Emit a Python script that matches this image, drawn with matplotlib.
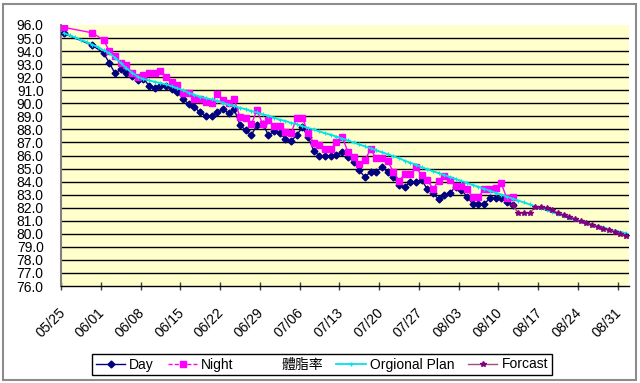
import matplotlib
matplotlib.use("Agg")
import matplotlib.pyplot as plt
from matplotlib.lines import Line2D
from matplotlib.patches import Rectangle
import matplotlib.transforms as mtransforms

plt.rcParams['font.family'] = ['Liberation Sans', 'Noto Sans CJK TC', 'DejaVu Sans']

# ---- data (x = days since 05/25) ----
tick_labels = ["05/25", "06/01", "06/08", "06/15", "06/22", "06/29", "07/06", "07/13",
               "07/20", "07/27", "08/03", "08/10", "08/17", "08/24", "08/31"]
tick_days = [0, 7, 14, 21, 28, 35, 42, 49, 56, 63, 70, 77, 84, 91, 98]

day_days = [0, 5] + list(range(7, 80))
day_vals = [95.35, 94.45,
            93.85, 93.1, 92.3, 92.6, 92.3, 92.1, 91.75, 91.9, 91.35, 91.2,   # 7-16
            91.35, 91.35, 91.1, 90.9, 90.3, 89.95, 89.7, 89.3, 89.03, 89.03,  # 17-26
            89.3, 89.55, 89.23, 89.55, 88.34, 87.95, 87.55, 88.34, 88.45, 87.57,  # 27-36
            87.85, 87.7, 87.3, 87.1, 87.57, 88.15, 87.45, 86.36, 85.97, 85.96,  # 37-46
            85.96, 86.04, 86.29, 85.91, 85.52, 84.89, 84.33, 84.76, 84.76, 85.09,  # 47-56
            84.76, 84.38, 83.74, 83.56, 83.99, 83.99, 84.12, 83.41, 83.1, 82.64,  # 57-66
            82.97, 83.15, 83.61, 83.36, 82.84, 82.28, 82.28, 82.28, 82.72, 82.72,  # 67-76
            82.72, 82.44, 82.2]                                               # 77-79

night_days = [0, 5] + list(range(7, 80))
night_vals = [95.82, 95.4,
              94.85, 94.0, 93.6, 93.07, 92.93, 92.35, 92.04, 92.17, 92.35, 92.35,  # 7-16
              92.47, 92.05, 91.65, 91.4, 90.76, 90.76, 90.33, 90.33, 90.12, 90.0,  # 17-26
              90.71, 90.25, 90.0, 90.3, 88.93, 88.85, 88.39, 89.49, 88.39, 88.72,  # 27-36
              88.28, 88.28, 87.8, 87.7, 88.9, 88.9, 87.7, 86.98, 86.8, 86.47,  # 37-46
              86.47, 87.05, 87.44, 86.29, 85.86, 85.35, 85.66, 86.47, 85.79, 85.79,  # 47-56
              85.58, 84.76, 84.07, 84.55, 84.55, 85.1, 84.5, 84.1, 83.45, 84.07,  # 57-66
              84.45, 84.1, 83.7, 83.65, 83.41, 82.8, 82.8, 83.45, 83.45, 83.5,  # 67-76
              83.87, 82.72, 82.8]                                             # 77-79

plan_days = list(range(0, 100))
plan_vals = [95.4, 95.2, 95.05, 94.85, 94.7, 94.5, 94.3, 94.05, 93.85, 93.5,
             93.1, 92.7, 92.35, 92.05, 91.85, 91.75, 91.65, 91.55, 91.45, 91.3,
             91.15, 91.0, 90.8, 90.65, 90.5, 90.4, 90.3, 90.2, 90.05, 89.9,
             89.8, 89.65, 89.55, 89.4, 89.3, 89.15, 89.05, 88.9, 88.75, 88.65,
             88.5, 88.4, 88.25, 88.1, 88.0, 87.85, 87.7, 87.6, 87.45, 87.3,
             87.15, 87.0, 86.85, 86.7, 86.55, 86.4, 86.25, 86.1, 85.95, 85.8,
             85.6, 85.45, 85.3, 85.1, 84.95, 84.8, 84.65, 84.5, 84.35, 84.2,
             84.05, 83.9, 83.75, 83.6, 83.45, 83.3, 83.15, 83.0, 82.85, 82.7,
             82.55, 82.4, 82.25, 82.1, 81.95, 81.8, 81.65, 81.5, 81.35, 81.2,
             81.1, 80.95, 80.85, 80.7, 80.6, 80.5, 80.35, 80.25, 80.15, 80.05]

fc_days = list(range(79, 100))
fc_vals = [82.2, 81.6, 81.6, 81.6, 82.03, 82.03, 82.0, 81.8, 81.6, 81.45,
           81.3, 81.15, 80.95, 80.85, 80.7, 80.55, 80.4, 80.3, 80.15, 80.0, 79.85]

series_names = ["Day", "Night", "體脂率", "Orgional Plan", "Forcast"]
y_ticks = list(range(76, 97))

# ---- figure ----
W, H = 640, 383
fig = plt.figure(figsize=(W / 100, H / 100), dpi=100)
fig.patch.set_facecolor('white')
fig.patches.append(Rectangle((3 / W, 3 / H), 633 / W, 376 / H, transform=fig.transFigure,
                             fill=False, edgecolor='#8c8c8c', linewidth=1.5))

L, R, T, B = 61, 629, 25, 286
ax = fig.add_axes([L / W, 1 - B / H, (R - L) / W, (B - T) / H])
ax.set_facecolor('#FFFFCC')
ax.set_xlim(0, 100)
ax.set_ylim(76, 96)

for v in y_ticks[1:-1]:
    ax.axhline(v, color='black', linewidth=1.0, zorder=1)

half = 0.5  # points sit in the middle of each day slot
ax.plot([d + half for d in day_days], day_vals, color='#000080', lw=1.0,
        marker='D', markersize=3.5, zorder=3)
ax.plot([d + half for d in night_days], night_vals, color='#FF00FF', lw=1.0,
        marker='s', markersize=4, zorder=3)
ax.plot([d + half for d in plan_days], plan_vals, color='#00E5E5', lw=1.3,
        marker='+', markersize=3, markeredgewidth=0.8, zorder=4)
ax.plot([d + half for d in fc_days], fc_vals, color='#A0507A', lw=1.0,
        marker='*', markersize=4, markerfacecolor='#800080', markeredgecolor='#800080', zorder=5)

ax.set_yticks(y_ticks)
ax.set_yticklabels([f"{v:.1f}" for v in y_ticks], fontsize=10, color='black')
ax.tick_params(axis='y', length=0, pad=12.5)

ax.set_xticks(tick_days)
ax.set_xticklabels(tick_labels, rotation=45, ha='right', va='top',
                   rotation_mode='anchor', fontsize=10)
ax.tick_params(axis='x', direction='inout', length=6, width=1, color='#404040', pad=11)
offset = mtransforms.ScaledTranslation(-3 / 100, 0, fig.dpi_scale_trans)
for lab in ax.get_xticklabels():
    lab.set_transform(lab.get_transform() + offset)

for s in ['top', 'right']:
    ax.spines[s].set_visible(False)
ax.spines['left'].set_color('#808080')
ax.spines['left'].set_linewidth(1.5)
ax.spines['bottom'].set_color('black')
ax.spines['bottom'].set_linewidth(1.0)

handles = [
    Line2D([], [], color='#000080', lw=1.0, marker='D', markersize=3.5),
    Line2D([], [], color='#FF00FF', lw=1.0, ls=(0, (3, 1.5)), marker='s', markersize=4),
    Line2D([], [], ls='none', marker=None),
    Line2D([], [], color='#00E5E5', lw=1.3, marker='+', markersize=3),
    Line2D([], [], color='#A0507A', lw=1.0, marker='*', markersize=4,
           markerfacecolor='#800080', markeredgecolor='#800080'),
]
leg = fig.legend(handles, series_names, loc='center', bbox_to_anchor=(322 / W, 1 - 364.5 / H),
                 ncol=5, fontsize=10, frameon=True, fancybox=False, edgecolor='black',
                 framealpha=1, handlelength=2.1, handletextpad=0.3, columnspacing=1.0,
                 borderpad=0.25, borderaxespad=0)
leg.get_frame().set_linewidth(1.0)

fig.savefig("out.png", dpi=100)
